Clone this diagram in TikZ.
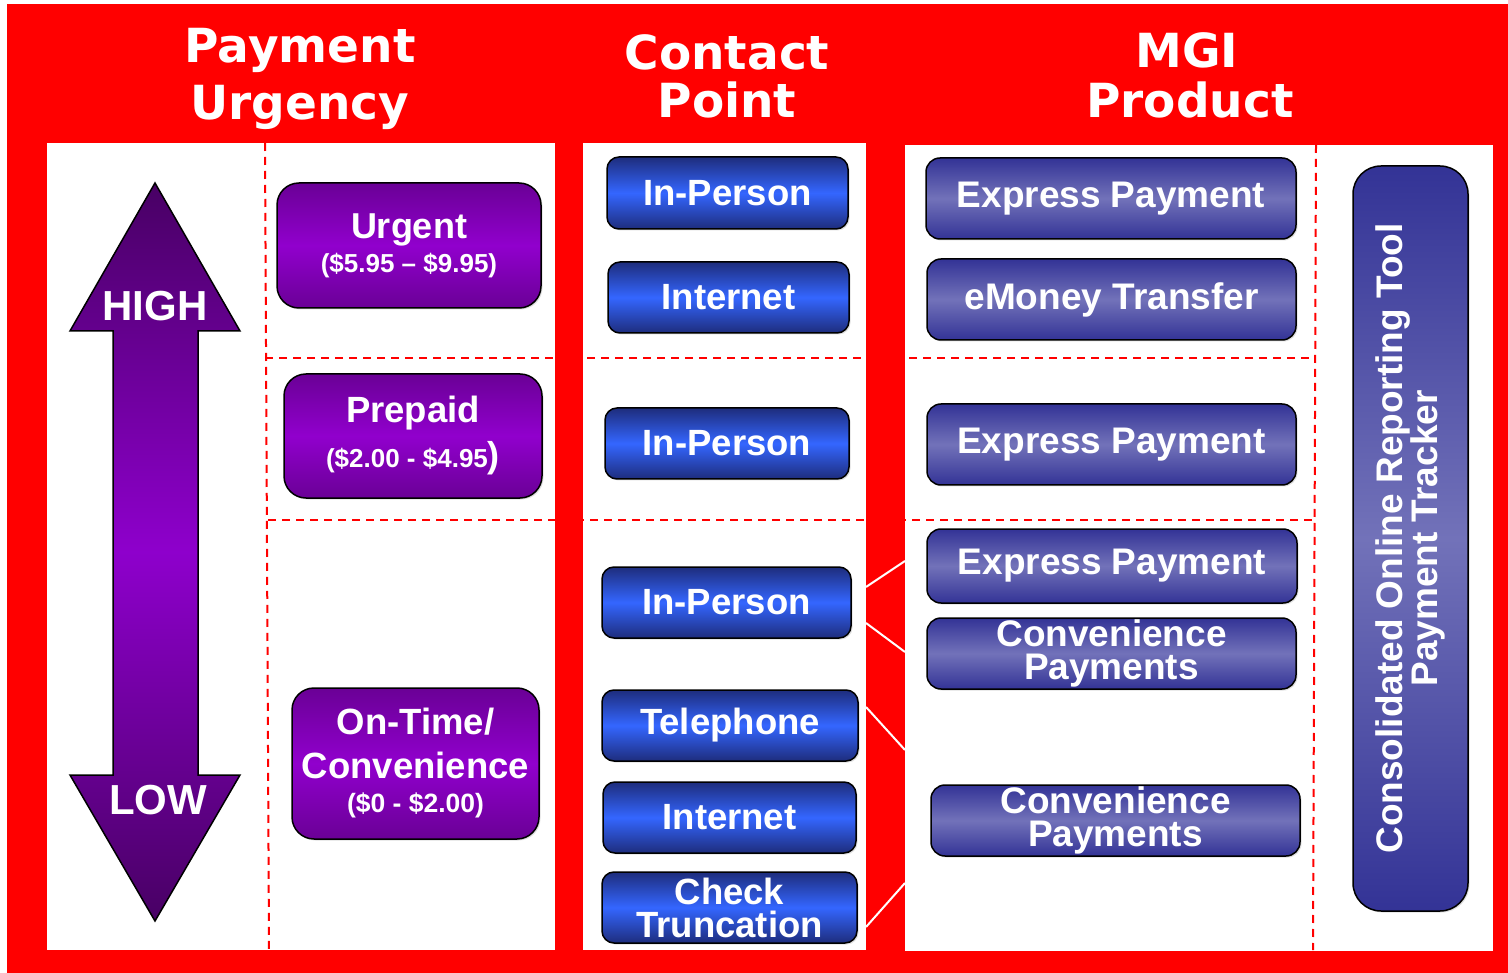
\documentclass[tikz,border=0pt]{standalone}
\usepackage{fontspec}
\setmainfont{Liberation Sans}
\newfontfamily\hdrfont{DejaVu Sans}
\usetikzlibrary{shadows}

\definecolor{bgred}{RGB}{255,0,0}
\definecolor{urgdark}{RGB}{106,0,150}
\definecolor{urglight}{RGB}{145,0,205}
\definecolor{cpdark}{RGB}{30,45,125}
\definecolor{cplight}{RGB}{52,102,255}
\definecolor{mgdark}{RGB}{51,51,150}
\definecolor{mglight}{RGB}{114,114,185}
\definecolor{arrdark}{RGB}{72,0,100}
\definecolor{arrlight}{RGB}{142,0,204}

\begin{document}
\begin{tikzpicture}[x=1pt,y=-1pt,
  panel/.style={fill=white, draw=none},
  divider/.style={draw=bgred, line width=2pt, dash pattern=on 8pt off 6pt},
  link/.style={draw=white, line width=2pt},
  header/.style={text=white, anchor=base, inner sep=0pt, font=\hdrfont\bfseries\fontsize{47}{47}\selectfont},
  boxbase/.style={draw=black, line width=1.5pt, text=white, align=center, inner sep=0pt,
    drop shadow={opacity=0.25, shadow xshift=1.5pt, shadow yshift=-1.5pt}},
  urgbox/.style={boxbase, rounded corners=22pt, top color=urgdark, bottom color=urgdark, middle color=urglight},
  cpbox/.style={boxbase, rounded corners=12pt, top color=cpdark, bottom color=cpdark, middle color=cplight,
    font=\bfseries\fontsize{36.5}{33}\selectfont},
  mgbox/.style={boxbase, rounded corners=14pt, top color=mgdark, bottom color=mgdark, middle color=mglight,
    font=\bfseries\fontsize{37}{33}\selectfont},
  arrowlabel/.style={text=white, inner sep=0pt, font=\bfseries\fontsize{42}{42}\selectfont}
]
\useasboundingbox (0,0) rectangle (1508,973);

% red background and the three white panels
\fill[bgred] (7,4) rectangle (1508,973);
\path[panel] (47,143) rectangle (555,950);
\path[panel] (583,143) rectangle (866,950);
\path[panel] (905,145) rectangle (1493,951);

% column headings
\node[header] (h1a) at (300,63) {Payment};
\node[header] (h1b) at (300,120) {Urgency};
\node[header] (h2a) at (727,70) {Contact};
\node[header] (h2b) at (727,118) {Point};
\node[header] (h3a) at (1187,68) {MGI};
\node[header] (h3b) at (1190,118) {Product};

% dashed row and column separators
\draw[divider] (265,143) -- (269,950);
\draw[divider] (1316,145) -- (1313,950);
\draw[divider] (265,358) -- (1316,358);
\draw[divider] (268,520) -- (1313,520);

% urgency scale arrow
\path[draw=black, line width=1.5pt, top color=arrdark, bottom color=arrdark, middle color=arrlight]
  (155,183) -- (240,331) -- (198,331) -- (198,775) -- (240,775) -- (155,921)
  -- (70,775) -- (113,775) -- (113,331) -- (70,331) -- cycle;
\node[arrowlabel] (high) at (155,306) {HIGH};
\node[arrowlabel] (low) at (158,800) {LOW};

% urgency levels
\node[urgbox, minimum width=264pt, minimum height=125pt, font=\bfseries\fontsize{36}{34}\selectfont]
  (urgent) at (409,245.5) {Urgent\\{\fontsize{26}{26}\selectfont(\$5.95 – \$9.95)}};
\node[urgbox, minimum width=258pt, minimum height=124pt, font=\bfseries\fontsize{36.5}{45}\selectfont]
  (prepaid) at (413,436) {Prepaid\\{\fontsize{26}{26}\selectfont(\$2.00 - \$4.95}{\fontsize{36}{36}\selectfont)}};
\node[urgbox, minimum width=247pt, minimum height=151pt, font=\bfseries\fontsize{36.5}{44}\selectfont]
  (ontime) at (415.5,763.5) {On-Time/\\Convenience\\[-10pt]{\fontsize{26.5}{26.5}\selectfont(\$0 - \$2.00)}};

% contact points
\node[cpbox, minimum width=241pt, minimum height=72pt] (cp1) at (727.5,193) {In-Person};
\node[cpbox, minimum width=241pt, minimum height=71pt] (cp2) at (728.5,297.5) {Internet};
\node[cpbox, minimum width=244pt, minimum height=71pt] (cp3) at (727,443.5) {In-Person};
\node[cpbox, minimum width=249pt, minimum height=71pt] (cp4) at (726.5,602.5) {In-Person};
\node[cpbox, minimum width=256pt, minimum height=71pt] (cp5) at (730,725.5) {Telephone};
\node[cpbox, minimum width=253pt, minimum height=71pt] (cp6) at (729.5,817.5) {Internet};
\node[cpbox, minimum width=255pt, minimum height=71pt] (cp7) at (729.5,907.5) {Check\\Truncation};

% products
\node[mgbox, minimum width=370pt, minimum height=81pt] (pr1) at (1111,198.5) {Express Payment};
\node[mgbox, minimum width=369pt, minimum height=81pt] (pr2) at (1111.5,299.5) {eMoney Transfer};
\node[mgbox, minimum width=369pt, minimum height=81pt] (pr3) at (1111.5,444.5) {Express Payment};
\node[mgbox, minimum width=370pt, minimum height=74pt] (pr4) at (1112,566) {Express Payment};
\node[mgbox, minimum width=369pt, minimum height=71pt] (pr5) at (1111.5,653.5) {Convenience\\Payments};
\node[mgbox, minimum width=369pt, minimum height=71pt] (pr6) at (1115.5,820.5) {Convenience\\Payments};

% reporting tool spanning all rows
\node[mgbox, rounded corners=28pt, minimum width=115pt, minimum height=745pt] (tool) at (1410.5,538.5) {};
\node[text=white, align=center, inner sep=0pt, rotate=90, font=\bfseries\fontsize{37}{30}\selectfont]
  (tooltext) at (tool.center) {Consolidated Online Reporting Tool\\Payment Tracker};

% links between contact points and products across the gap
\coordinate (a1) at (866,587);  \coordinate (b1) at (905,561);
\coordinate (a2) at (866,623);  \coordinate (b2) at (905,652);
\coordinate (a3) at (866,707);  \coordinate (b3) at (905,750);
\coordinate (a4) at (866,927);  \coordinate (b4) at (905,883);
\draw[link] (a1) -- (b1);
\draw[link] (a2) -- (b2);
\draw[link] (a3) -- (b3);
\draw[link] (a4) -- (b4);
\end{tikzpicture}
\end{document}
